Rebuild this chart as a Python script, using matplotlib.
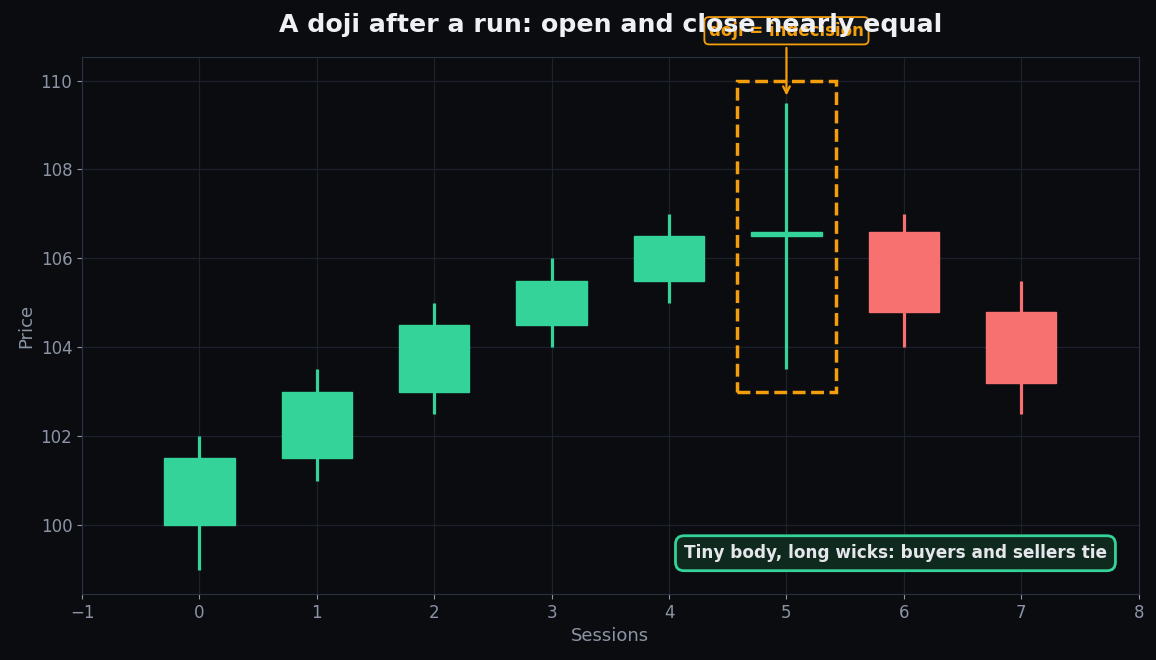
import matplotlib.pyplot as plt
from matplotlib.patches import Rectangle

sessions = [0, 1, 2, 3, 4, 5, 6, 7]
opens = [100.0, 101.5, 103.0, 104.5, 105.5, 106.5, 106.6, 104.8]
closes = [101.5, 103.0, 104.5, 105.5, 106.5, 106.6, 104.8, 103.2]
highs = [102.0, 103.5, 105.0, 106.0, 107.0, 109.5, 107.0, 105.5]
lows = [99.0, 101.0, 102.5, 104.0, 105.0, 103.5, 104.0, 102.5]

BG = '#0b0c10'
GREEN = '#34d399'
RED = '#f87171'
ORANGE = '#f59e0b'
MUTED = '#8b95a5'

fig, ax = plt.subplots(figsize=(11.56, 6.6), dpi=100)
fig.patch.set_facecolor(BG)
ax.set_facecolor(BG)
fig.subplots_adjust(left=0.071, right=0.985, top=0.913, bottom=0.1)

for x, o, c, h, l in zip(sessions, opens, closes, highs, lows):
    color = GREEN if c >= o else RED
    ax.vlines(x, l, h, color=color, linewidth=2.3, zorder=2)
    body = abs(c - o)
    ax.add_patch(Rectangle((x - 0.3, min(o, c)), 0.6, body,
                           facecolor=color, edgecolor=color, linewidth=1, zorder=3))

# highlight the doji
doji = 5
ax.add_patch(Rectangle((doji - 0.42, lows[doji] - 0.5), 0.84, 7.0, fill=False,
                       edgecolor=ORANGE, linewidth=2.5, linestyle='--', zorder=4))
ax.annotate('doji = indecision', xy=(doji, highs[doji] + 0.1), xytext=(doji, 111.12),
            ha='center', va='center', fontsize=12, fontweight='bold', color=ORANGE,
            arrowprops=dict(arrowstyle='->', color=ORANGE, lw=1.6),
            bbox=dict(boxstyle='round,pad=0.28', facecolor='#0f141b', edgecolor=ORANGE, lw=1.3),
            annotation_clip=False, zorder=5)

ax.text(0.97, 0.076, 'Tiny body, long wicks: buyers and sellers tie', transform=ax.transAxes,
        ha='right', va='center', fontsize=12.2, fontweight='bold', color='#e5e7eb',
        bbox=dict(boxstyle='round,pad=0.5', facecolor='#10291f', edgecolor=GREEN, lw=2), zorder=6)

ax.set_xlim(-1, 8)
ax.set_ylim(98.45, 110.52)
title = ax.set_title('A doji after a run: open and close nearly equal', fontsize=18.2,
                     fontweight='bold', color='#eef0f3', pad=18)
title.set_zorder(10)
ax.set_xlabel('Sessions', fontsize=13, color=MUTED)
ax.set_ylabel('Price', fontsize=13, color=MUTED)
ax.grid(True, color='#1b222c', linewidth=0.9, zorder=0)
ax.set_axisbelow(True)
ax.tick_params(colors=MUTED, labelsize=12)
for s in ax.spines.values():
    s.set_color('#283240')

fig.savefig('out.png', dpi=100, facecolor=BG)
